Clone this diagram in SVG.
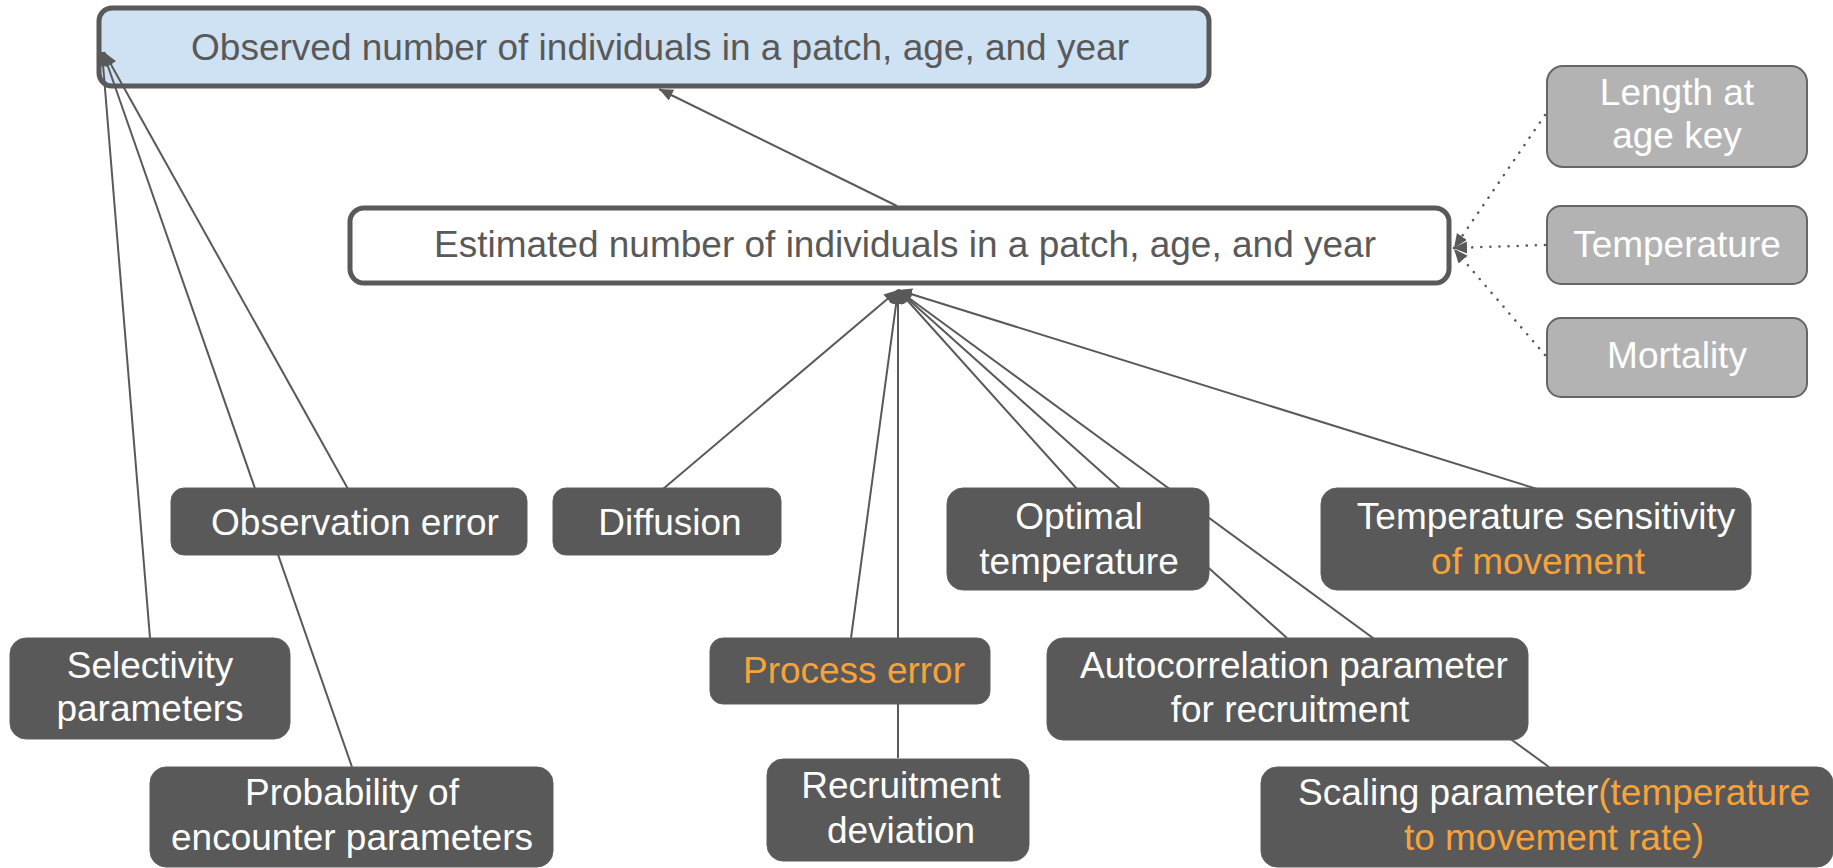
<svg xmlns="http://www.w3.org/2000/svg" width="1833" height="868" viewBox="0 0 1833 868">
<style>
text{font-family:"Liberation Sans",Arial,sans-serif;font-size:37px;text-anchor:middle}
.main{fill:#595959}
.w{fill:#ffffff}
.o{fill:#f8a33a}
.dark{fill:#595959;stroke:#5f5f5f;stroke-width:1}
.grey{fill:#b3b3b3;stroke:#666666;stroke-width:2}
.ln{stroke:#595959;stroke-width:2;fill:none}
.dot{stroke:#595959;stroke-width:2.5;fill:none;stroke-dasharray:0.1 9;stroke-linecap:round}
</style>
<defs>
<marker id="ah" markerUnits="userSpaceOnUse" markerWidth="16" markerHeight="14" refX="14" refY="6" orient="auto">
<path d="M0,0 L14,6 L0,12 Z" fill="#595959"/>
</marker>
</defs>
<g id="observed">
<rect x="99" y="8" width="1110" height="78" rx="13" fill="#cfe2f3" stroke="#595959" stroke-width="5"/>
<text class="main" x="660" y="60">Observed number of individuals in a patch, age, and year</text>
</g>
<g id="estimated">
<rect x="350" y="208" width="1099" height="75" rx="14" fill="#ffffff" stroke="#595959" stroke-width="5"/>
<text class="main" x="905" y="257">Estimated number of individuals in a patch, age, and year</text>
</g>
<g id="connectors">
<line class="ln" x1="150" y1="638" x2="102" y2="52" marker-end="url(#ah)"/>
<line class="ln" x1="352" y1="767" x2="103" y2="52" marker-end="url(#ah)"/>
<line class="ln" x1="348" y1="489" x2="104" y2="52" marker-end="url(#ah)"/>
<line class="ln" x1="897" y1="206" x2="659" y2="89" marker-end="url(#ah)"/>
<line class="ln" x1="663" y1="489" x2="898" y2="290" marker-end="url(#ah)"/>
<line class="ln" x1="851" y1="638" x2="898" y2="290" marker-end="url(#ah)"/>
<line class="ln" x1="898" y1="758" x2="898" y2="290" marker-end="url(#ah)"/>
<line class="ln" x1="1077" y1="489" x2="898" y2="290" marker-end="url(#ah)"/>
<line class="ln" x1="1287" y1="638" x2="898" y2="290" marker-end="url(#ah)"/>
<line class="ln" x1="1549" y1="767" x2="898" y2="290" marker-end="url(#ah)"/>
<line class="ln" x1="1537" y1="489" x2="898" y2="290" marker-end="url(#ah)"/>
<line class="dot" x1="1545" y1="115" x2="1454" y2="248" marker-end="url(#ah)"/>
<line class="dot" x1="1545" y1="245" x2="1453" y2="248" marker-end="url(#ah)"/>
<line class="dot" x1="1545" y1="355" x2="1454" y2="249" marker-end="url(#ah)"/>
</g>
<g id="length-at-age">
<rect class="grey" x="1547" y="66" width="260" height="101" rx="16"/>
<text class="w" x="1677" y="105">Length at</text>
<text class="w" x="1677" y="148">age key</text>
</g>
<g id="temperature">
<rect class="grey" x="1547" y="206" width="260" height="78" rx="14"/>
<text class="w" x="1677" y="257">Temperature</text>
</g>
<g id="mortality">
<rect class="grey" x="1547" y="318" width="260" height="79" rx="14"/>
<text class="w" x="1677" y="368">Mortality</text>
</g>
<g id="observation-error">
<rect class="dark" x="171" y="488" width="356" height="67" rx="13"/>
<text class="w" x="355" y="535">Observation error</text>
</g>
<g id="diffusion">
<rect class="dark" x="553" y="488" width="228" height="67" rx="13"/>
<text class="w" x="670" y="535">Diffusion</text>
</g>
<g id="optimal-temperature">
<rect class="dark" x="947" y="488" width="262" height="102" rx="16"/>
<text class="w" x="1079" y="529">Optimal</text>
<text class="w" x="1079" y="574">temperature</text>
</g>
<g id="temperature-sensitivity">
<rect class="dark" x="1321" y="488" width="430" height="102" rx="16"/>
<text class="w" x="1546" y="529">Temperature sensitivity</text>
<text class="o" x="1538" y="574">of movement</text>
</g>
<g id="selectivity">
<rect class="dark" x="10" y="638" width="280" height="101" rx="16"/>
<text class="w" x="150" y="678">Selectivity</text>
<text class="w" x="150" y="721">parameters</text>
</g>
<g id="process-error">
<rect class="dark" x="710" y="638" width="280" height="66" rx="13"/>
<text class="o" x="854" y="683">Process error</text>
</g>
<g id="autocorrelation">
<rect class="dark" x="1047" y="638" width="481" height="102" rx="16"/>
<text class="w" x="1294" y="678">Autocorrelation parameter</text>
<text class="w" x="1290" y="722">for recruitment</text>
</g>
<g id="probability-encounter">
<rect class="dark" x="150" y="767" width="403" height="100" rx="16"/>
<text class="w" x="352" y="805">Probability of</text>
<text class="w" x="352" y="850">encounter parameters</text>
</g>
<g id="recruitment-deviation">
<rect class="dark" x="767" y="759" width="262" height="102" rx="16"/>
<text class="w" x="901" y="798">Recruitment</text>
<text class="w" x="901" y="843">deviation</text>
</g>
<g id="scaling-parameter">
<rect class="dark" x="1261" y="767" width="572" height="100" rx="16"/>
<text class="w" x="1554" y="805">Scaling parameter<tspan class="o">(temperature</tspan></text>
<text class="o" x="1554" y="850">to movement rate)</text>
</g>
</svg>
